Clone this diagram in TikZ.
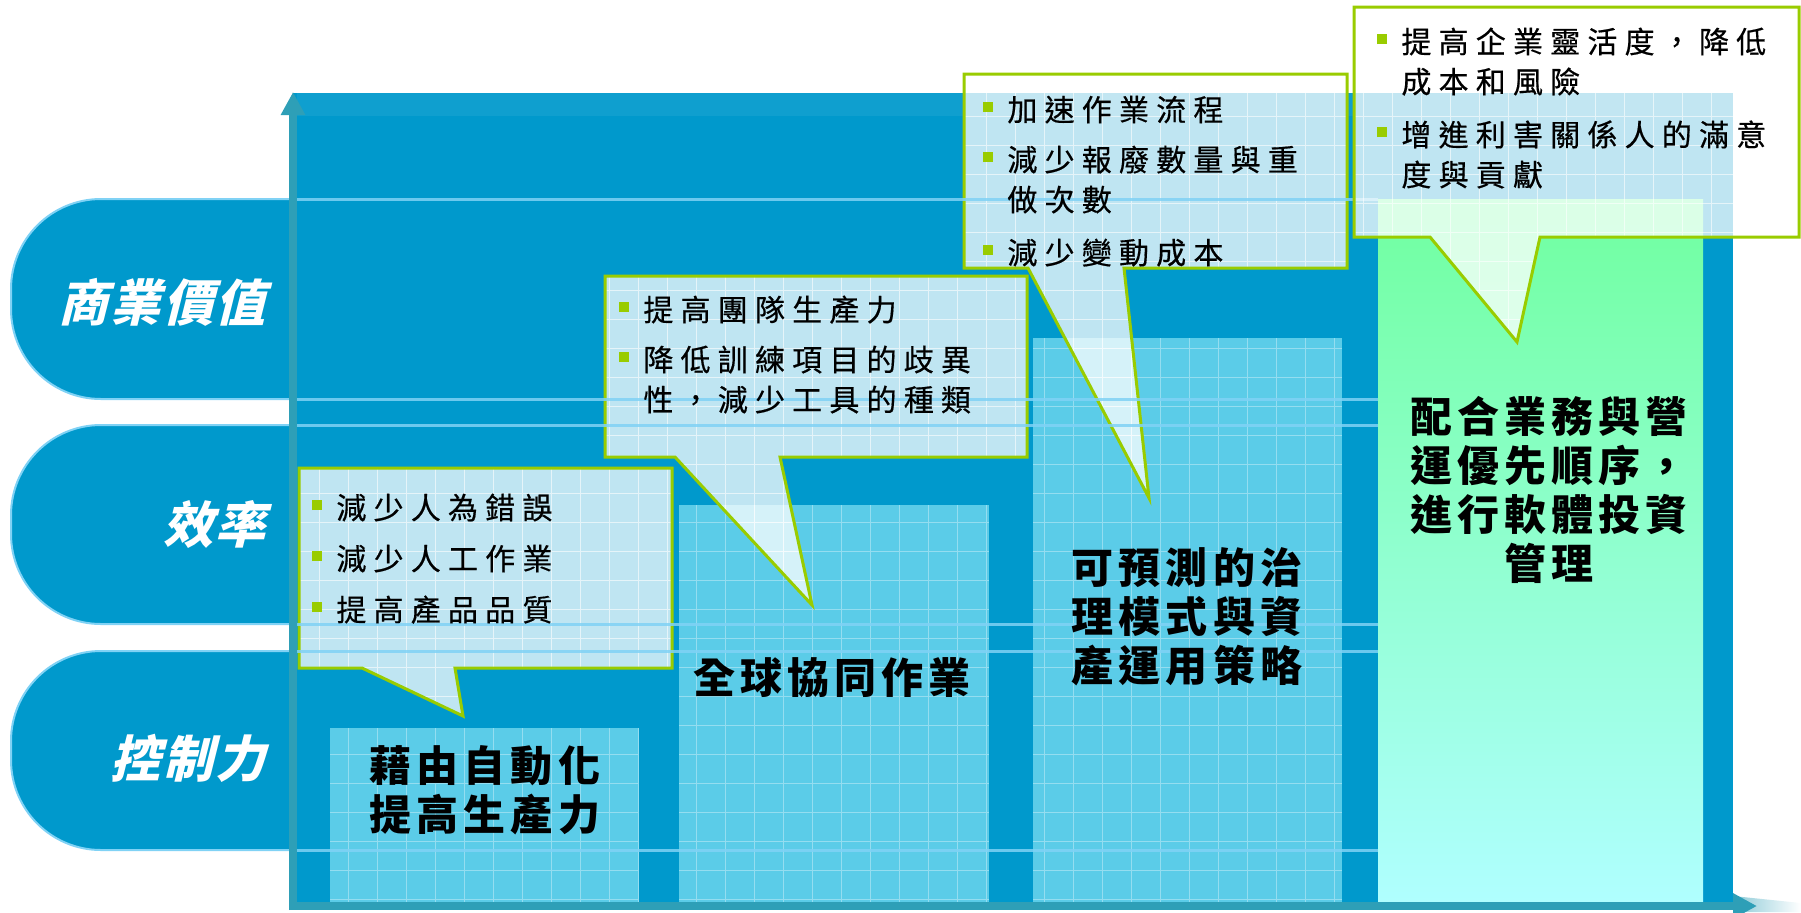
\documentclass[tikz,border=0pt]{standalone}
\usepackage{fontspec}
\usepackage{tikz}
\usetikzlibrary{arrows.meta}

\newfontfamily\calloutfont{Noto Sans CJK TC}[LetterSpace=24,FakeBold=0.5]
\newfontfamily\titlefont{Noto Sans CJK TC}[LetterSpace=12]
\newfontfamily\tabfont{Noto Sans CJK TC}[FakeSlant=0.25,LetterSpace=5]

\definecolor{bgblue}{RGB}{0,153,204}
\definecolor{tabedge}{RGB}{128,210,245}
\definecolor{axisteal}{RGB}{46,159,183}
\definecolor{colblue}{RGB}{91,204,232}
\definecolor{bulgreen}{RGB}{153,204,0}
\definecolor{topgreen}{RGB}{112,255,160}
\definecolor{botcyan}{RGB}{176,255,255}

\newcommand{\bul}{\makebox[12pt][l]{\textcolor{bulgreen}{\rule[4.5pt]{5pt}{5pt}}}}
\newcommand{\cont}{\hspace*{12pt}}
\newcommand{\callout}[1]{%
  \fill[callfill] #1;
  \begin{scope}
    \clip #1;
    \draw[callgrid] (0,0) grid (1801,912);
  \end{scope}
  \draw[calledge] #1;}

\begin{document}
\begin{tikzpicture}[x=0.5pt, y=-0.5pt,
    tab/.style={fill=bgblue, draw=tabedge, line width=1pt, rounded corners=45pt},
    tablabel/.style={anchor=east, text=white, inner sep=0pt, font=\tabfont\bfseries\fontsize{25}{30}\selectfont},
    column/.style={fill=colblue},
    colgrid/.style={draw=white, opacity=0.35, line width=0.5pt, step=14.5pt},
    coltitle/.style={align=center, inner sep=0pt, font=\titlefont\bfseries\fontsize{21}{24.5}\selectfont},
    callfill/.style={fill=white, fill opacity=0.75},
    callgrid/.style={draw=white, opacity=0.6, line width=0.5pt, step=14.5pt},
    calledge/.style={draw=bulgreen, line width=1.5pt, line join=miter},
    calltext/.style={anchor=base west, inner sep=0pt, font=\calloutfont\fontsize{15}{20}\selectfont},
    rowline/.style={draw=tabedge, line width=1.5pt, opacity=0.85},
    axis/.style={draw=axisteal, line width=4pt}]

\useasboundingbox (0,0) rectangle (1801,912);

\foreach \ya/\yb in {199/399, 425/624, 651/850}
    \path[tab] (300,\ya) -- (11,\ya) -- (11,\yb) -- (300,\yb);

\fill[bgblue] (293,93) rectangle (1733,906);
\fill[bgblue!94!white] (297,93) rectangle (1733,116);

\foreach \xa/\xb/\ya in {330/639/728, 679/989/505, 1033/1342/338} {
    \fill[column] (\xa,\ya) rectangle (\xb,903);
    \draw[colgrid] (\xa,\ya) grid (\xb,903);
}

\callout{(299,468) -- (672,468) -- (672,668) -- (455,668) -- (463,716) -- (362,668) -- (299,668) -- cycle}
\callout{(605,276) -- (1027,276) -- (1027,457) -- (780,457) -- (812,605) -- (675,457) -- (605,457) -- cycle}
\callout{(964,74) -- (1347,74) -- (1347,268) -- (1124,268) -- (1149,498) -- (1028,268) -- (964,268) -- cycle}

\foreach \y in {199,399,425,624,651,850}
    \draw[rowline] (297,\y) -- (1378,\y);

\shade[top color=topgreen, bottom color=botcyan] (1378,199) rectangle (1703,903);

\callout{(1354,7) -- (1799,7) -- (1799,237) -- (1540,237) -- (1517,342) -- (1430,237) -- (1354,237) -- cycle}

\node[tablabel] (valueLabel) at (266,302) {商業價值};
\node[tablabel] (effLabel) at (266,525) {效率};
\node[tablabel] (ctrlLabel) at (266,758) {控制力};

\node[calltext] (autoNotes) at (312,519) {\parbox[t]{200pt}{\bul 減少人為錯誤\\[5.5pt]\bul 減少人工作業\\[5.5pt]\bul 提高產品品質}};
\node[calltext] (globalNotes) at (619,321) {\parbox[t]{210pt}{\bul 提高團隊生產力\\[5pt]\bul 降低訓練項目的歧異\\\cont 性，減少工具的種類}};
\node[calltext] (governNotes) at (983,121) {\parbox[t]{190pt}{\bul 加速作業流程\\[5pt]\bul 減少報廢數量與重\\\cont 做次數\\[6.5pt]\bul 減少變動成本}};
\node[calltext] (alignNotes) at (1377,53) {\parbox[t]{210pt}{\bul 提高企業靈活度，降低\\\cont 成本和風險\\[6.5pt]\bul 增進利害關係人的滿意\\\cont 度與貢獻}};

\node[coltitle] (autoTitle) at (485,790) {藉由自動化\\提高生產力};
\node[coltitle] (globalTitle) at (832,678) {全球協同作業};
\node[coltitle] (governTitle) at (1187,617) {可預測的治\\理模式與資\\產運用策略};
\node[coltitle] (alignTitle) at (1549,490) {配合業務與營\\運優先順序，\\進行軟體投資\\管理};

\shade[left color=axisteal!55, right color=white] (1733,896) -- (1801,903) -- (1801,912) -- (1733,912) -- cycle;
\draw[axis, -{Triangle[length=11.5pt, width=11.5pt]}] (293,910) -- (293,92);
\draw[axis, -{Triangle[length=12pt, width=12pt]}] (289,906) -- (1757,906);

\end{tikzpicture}
\end{document}
